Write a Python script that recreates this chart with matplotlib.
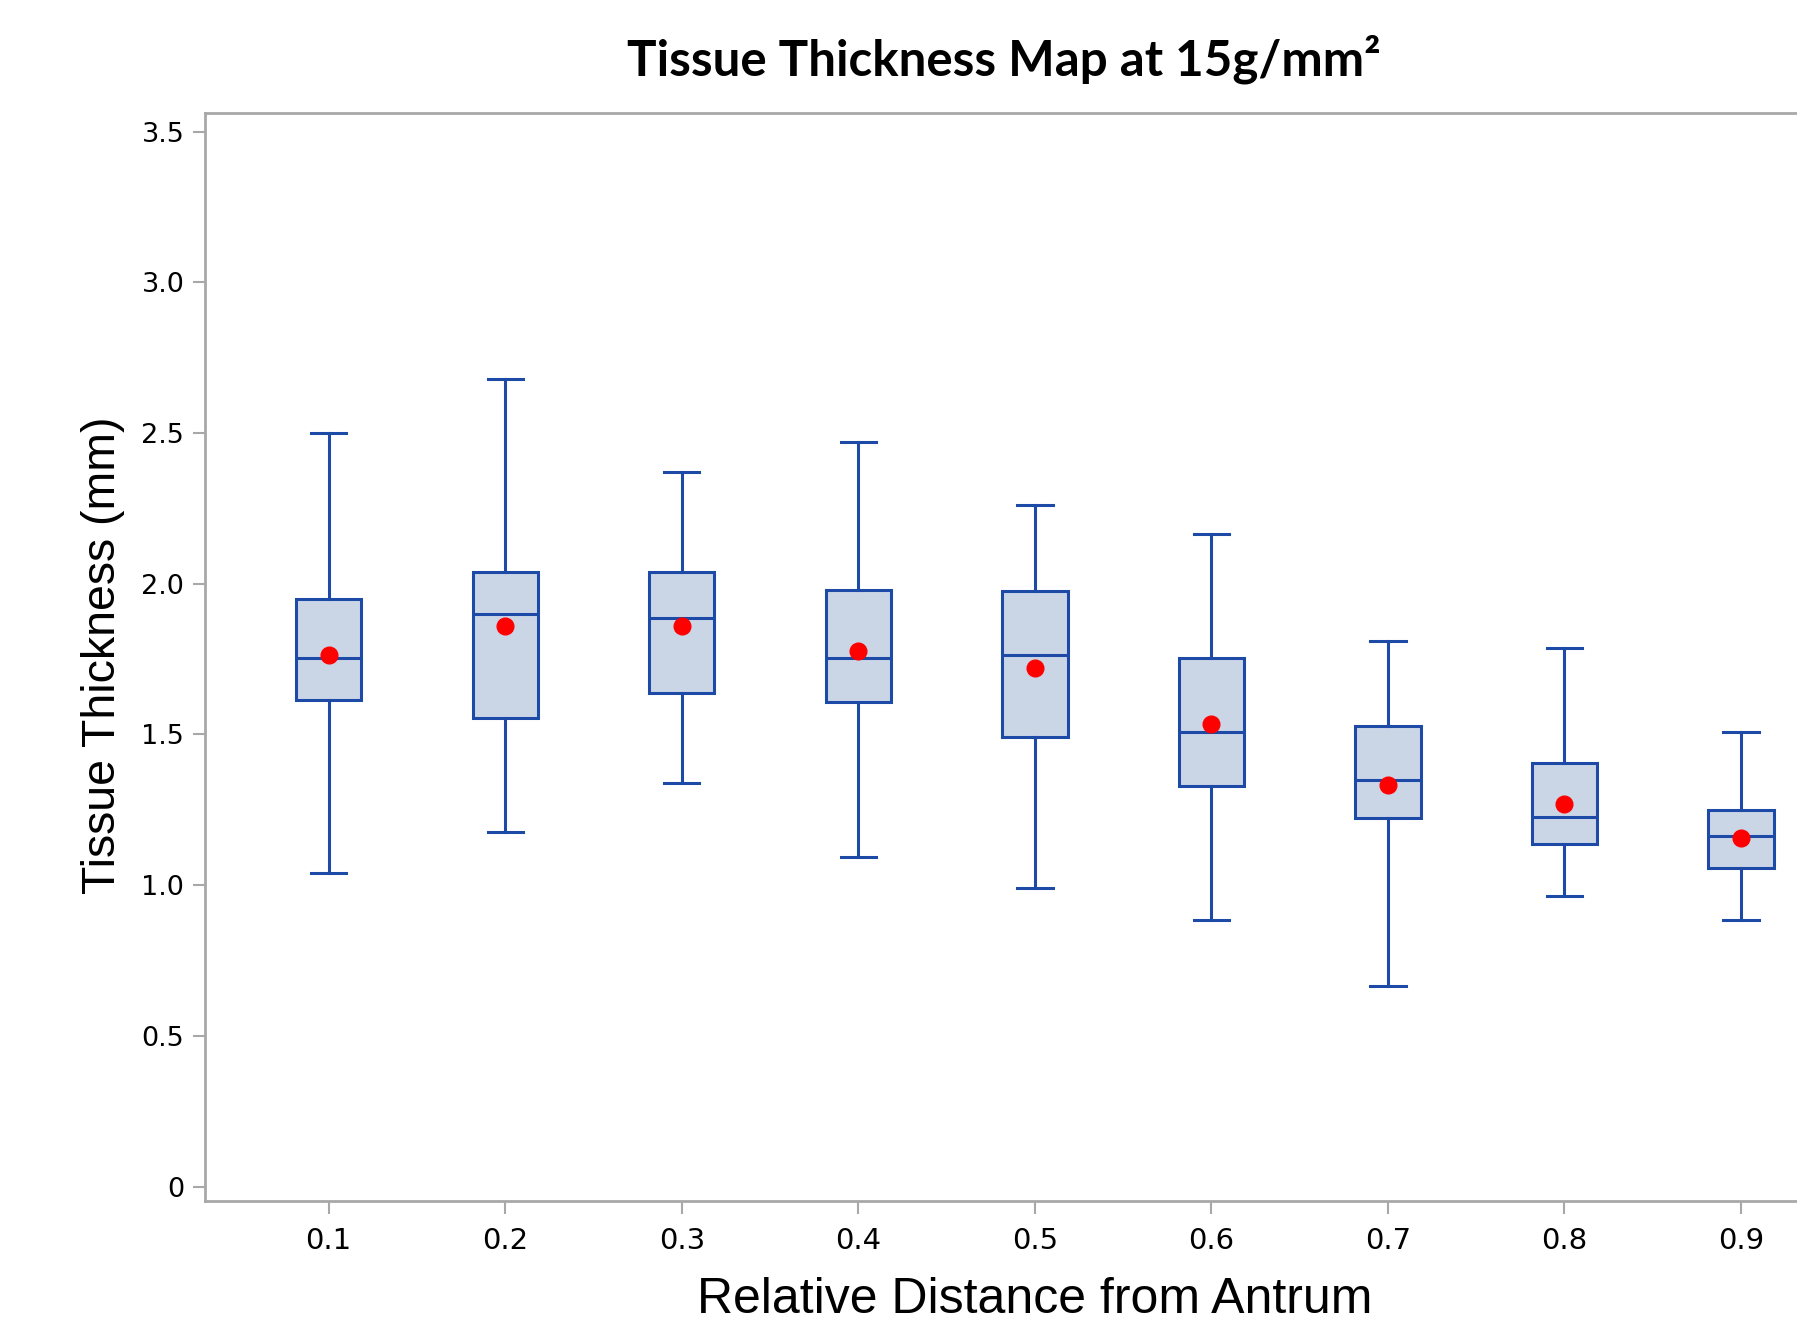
import matplotlib
matplotlib.use("Agg")
import matplotlib.pyplot as plt
from matplotlib import font_manager

# ---- data ----
categories = ["0.1", "0.2", "0.3", "0.4", "0.5", "0.6", "0.7", "0.8", "0.9"]
whisker_low = [1.04, 1.178, 1.34, 1.094, 0.99, 0.885, 0.665, 0.965, 0.885]
q1 = [1.615, 1.554, 1.638, 1.607, 1.493, 1.33, 1.223, 1.136, 1.056]
median = [1.755, 1.90, 1.885, 1.755, 1.763, 1.508, 1.349, 1.227, 1.163]
q3 = [1.95, 2.04, 2.04, 1.98, 1.976, 1.755, 1.527, 1.406, 1.25]
whisker_high = [2.50, 2.68, 2.37, 2.47, 2.26, 2.166, 1.81, 1.786, 1.508]
means = [1.763, 1.86, 1.86, 1.778, 1.72, 1.535, 1.334, 1.27, 1.155]
yticks = [0, 0.5, 1.0, 1.5, 2.0, 2.5, 3.0, 3.5]
ytick_labels = ["0", "0.5", "1.0", "1.5", "2.0", "2.5", "3.0", "3.5"]

def pick(fams):
    avail = {f.name for f in font_manager.fontManager.ttflist}
    return [f for f in fams if f in avail] + ["DejaVu Sans"]

title_font = pick(["Lato", "Roboto"])
arial = pick(["Liberation Sans"])

W, H = 1797, 1322
fig = plt.figure(figsize=(W / 100, H / 100), dpi=100)
# display coords (1568x1154) -> figure fractions
L, R, T, B = 179 / 1568, 1627 / 1568, 99 / 1154, 1048 / 1154
ax = fig.add_axes([L, 1 - B, R - L, B - T])

edge = "#1c4aa6"
fill = "#cad5e6"
stats = []
for i, c in enumerate(categories):
    stats.append(dict(label=c, whislo=whisker_low[i], q1=q1[i], med=median[i],
                      q3=q3[i], whishi=whisker_high[i], mean=means[i], fliers=[]))
positions = list(range(1, len(categories) + 1))
ax.bxp(stats, positions=positions, widths=0.37, patch_artist=True,
       showmeans=True, showfliers=False,
       boxprops=dict(facecolor=fill, edgecolor=edge, linewidth=2.2),
       medianprops=dict(color=edge, linewidth=2.2),
       whiskerprops=dict(color=edge, linewidth=2.2),
       capprops=dict(color=edge, linewidth=2.2),
       capwidths=0.2,
       meanprops=dict(marker="o", markerfacecolor="#ff0000",
                      markeredgecolor="#ff0000", markersize=12))

ax.set_xlim(0.3, 9.7)
ax.set_ylim(-0.046, 3.56)
ax.set_yticks(yticks)
ax.set_yticklabels(ytick_labels)
ax.set_xticks(positions)
ax.set_xticklabels(categories)

spine_c = "#a8a8a8"
for s in ["left", "bottom", "top"]:
    ax.spines[s].set_color(spine_c)
    ax.spines[s].set_linewidth(2)
ax.spines["right"].set_visible(False)
ax.tick_params(axis="both", color=spine_c, width=1.5, length=9)
ax.tick_params(axis="y", labelsize=19.5, pad=6)
ax.tick_params(axis="x", labelsize=21, pad=10)

ax.set_xlabel("Relative Distance from Antrum", fontsize=36, family=arial, va="center")
ax.xaxis.set_label_coords((903 - 179) / (1627 - 179), (1048 - 1135) / (1048 - 99))
ax.set_ylabel("Tissue Thickness (mm)", fontsize=33.5, family=arial, va="center")
ax.yaxis.set_label_coords((90 - 179) / (1627 - 179), (1048 - 572) / (1048 - 99))

fig.text(876 / 1568, 1 - 52 / 1154, "Tissue Thickness Map at 15g/mm²", ha="center",
         va="center", fontsize=35.5, fontweight="bold", family=title_font)

fig.savefig("out.png", dpi=100)
